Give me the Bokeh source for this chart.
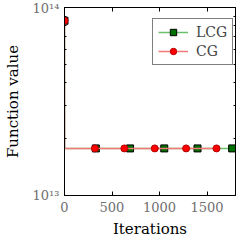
from bokeh.plotting import figure
from bokeh.models import FixedTicker, LogAxis, LinearAxis, Legend, LegendItem
from bokeh.embed import file_html
from bokeh.resources import INLINE

# ---- data ----
lcg_line_iters = [0, 1, 330, 690, 1050, 1400, 1765, 1800]
lcg_line_values = [8.5e13, 1.78e13, 1.78e13, 1.78e13, 1.78e13, 1.78e13, 1.78e13, 1.78e13]
lcg_marker_iters = [0, 330, 690, 1050, 1400, 1765]
lcg_marker_values = [8.5e13, 1.78e13, 1.78e13, 1.78e13, 1.78e13, 1.78e13]

cg_line_iters = [0, 1, 320, 630, 950, 1280, 1600, 1620]
cg_line_values = [8.5e13, 1.78e13, 1.78e13, 1.78e13, 1.78e13, 1.78e13, 1.78e13, 1.78e13]
cg_marker_iters = [0, 320, 630, 950, 1280, 1600]
cg_marker_values = [8.5e13, 1.78e13, 1.78e13, 1.78e13, 1.78e13, 1.78e13]

x_ticks = [0, 500, 1000, 1500]
y_ticks = [1e13, 1e14]
y_tick_labels = ["10\u00b9\u00b3", "10\u00b9\u2074"]
y_minor = [2e13, 3e13, 4e13, 5e13, 6e13, 7e13, 8e13, 9e13]

SERIF = "DejaVu Serif"

p = figure(width=240, height=240, y_axis_type="log",
           x_range=(0, 1800), y_range=(1e13, 1e14),
           output_backend="svg", toolbar_location=None,
           min_border_left=61, min_border_right=5,
           min_border_top=7, min_border_bottom=45)
p.grid.visible = False
p.outline_line_color = "black"
p.outline_line_width = 1
p.background_fill_color = "white"
p.border_fill_color = "white"

l1 = p.line(lcg_line_iters, lcg_line_values, line_color="#6cc06c", line_width=1.5)
s1 = p.scatter(lcg_marker_iters, lcg_marker_values, marker="square", size=7,
               fill_color="#007000", line_color="black", line_width=1)
l2 = p.line(cg_line_iters, cg_line_values, line_color="#f47a7a", line_width=1.5)
s2 = p.scatter(cg_marker_iters, cg_marker_values, marker="circle", size=7,
               fill_color="red", line_color="#b00000", line_width=1)

def style(ax, labels=True):
    ax.axis_line_color = "black"
    ax.axis_line_width = 1
    ax.major_tick_in = 4
    ax.major_tick_out = 0
    ax.minor_tick_in = 2
    ax.minor_tick_out = 0
    ax.major_tick_line_color = "black"
    ax.minor_tick_line_color = "black"
    ax.major_label_text_font = SERIF
    ax.major_label_text_font_size = "13px"
    ax.major_label_text_color = "#707070"
    ax.axis_label_text_font = SERIF
    ax.axis_label_text_font_size = "15px"
    ax.axis_label_text_font_style = "normal"
    ax.axis_label_text_color = "black"
    if not labels:
        ax.major_label_text_font_size = "1px"
        ax.major_label_text_alpha = 0
        ax.major_label_standoff = 0
        ax.axis_label_standoff = 0

xa = p.xaxis[0]
xa.ticker = FixedTicker(ticks=x_ticks)
xa.axis_label = "Iterations"
style(xa)
xa.major_label_standoff = 6
xa.axis_label_standoff = 5

ya = p.yaxis[0]
ya.ticker = FixedTicker(ticks=y_ticks, minor_ticks=y_minor)
ya.major_label_overrides = {t: lab for t, lab in zip(y_ticks, y_tick_labels)}
ya.axis_label = "Function value"
style(ya)
ya.major_label_standoff = 5
ya.axis_label_standoff = 8

ra = LogAxis(ticker=FixedTicker(ticks=y_ticks, minor_ticks=y_minor))
style(ra, labels=False)
p.add_layout(ra, "right")

ta = LinearAxis(ticker=FixedTicker(ticks=x_ticks))
style(ta, labels=False)
p.add_layout(ta, "above")

legend = Legend(items=[LegendItem(label="LCG", renderers=[l1, s1]),
                       LegendItem(label="CG", renderers=[l2, s2])],
                location=(88, 130), margin=0, padding=5, spacing=3,
                glyph_width=30, glyph_height=16, label_height=16,
                label_standoff=8,
                label_text_font=SERIF, label_text_font_size="14px",
                border_line_color="black", border_line_width=1,
                background_fill_alpha=1)
p.add_layout(legend, "center")

open("out.html", "w").write(file_html(p, INLINE))
